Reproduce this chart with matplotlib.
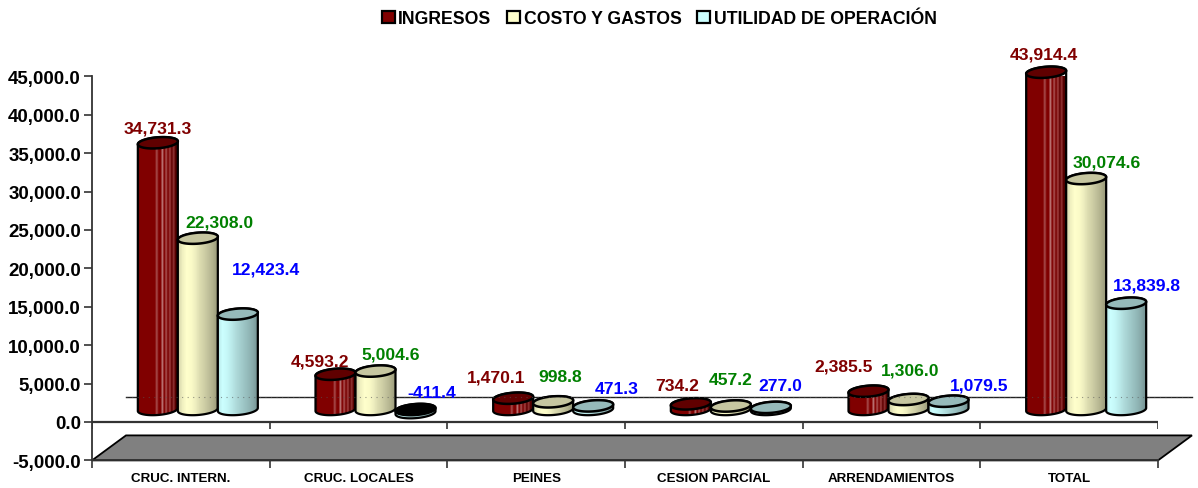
import numpy as np
import matplotlib
matplotlib.use('Agg')
import matplotlib.pyplot as plt
from matplotlib.colors import LinearSegmentedColormap
from matplotlib.patches import Patch, Polygon

plt.rcParams['font.family'] = ['Liberation Sans', 'DejaVu Sans']
plt.rcParams['font.weight'] = 'bold'

categories = ['CRUC. INTERN.', 'CRUC. LOCALES', 'PEINES', 'CESION PARCIAL', 'ARRENDAMIENTOS', 'TOTAL']
series_names = ['INGRESOS', 'COSTO Y GASTOS', 'UTILIDAD DE OPERACIÓN']
ingresos = [34731.3, 4593.2, 1470.1, 734.2, 2385.5, 43914.4]
costos = [22308.0, 5004.6, 998.8, 457.2, 1306.0, 30074.6]
utilidad = [12423.4, -411.4, 471.3, 277.0, 1079.5, 13839.8]
y_ticks = [-5000, 0, 5000, 10000, 15000, 20000, 25000, 30000, 35000, 40000, 45000]

# label offsets from the top of each cylinder, in pixels
label_dx = [[0, 22, 28], [-16, 15, 16], [-17, 7, 24], [-14, 0, 9], [-25, 2, 31], [-2, 21, 21]]
label_dy = [[15, 16, 45], [13, 17, 20], [21, 25, 17], [18, 26, 22], [25, 29, 16], [18, 17, 18]]

W, H = 1198, 489
PX_X = 1 / 177.67      # category units per pixel
PX_Y = 5000 / 38.4     # data units per pixel
DEPTH_X = 34 * PX_X
DEPTH_Y = 25 * PX_Y
RX = 20 * PX_X
RY = 5.5 * PX_Y
TILT = 1.5 * PX_Y

styles = [
    {'edge': 'black', 'text': '#800000', 'key': '#800000', 'top': '#600000',
     'stops': ['#600000', '#800000', '#800000', '#800000', '#800000', '#800000', '#800000', '#800000',
               '#800000', '#800000', '#a85050', '#800000', '#800000', '#b87070', '#800000', '#a85050',
               '#780000', '#a04040', '#600000', '#8c3030', '#580000', '#400000']},
    {'edge': 'black', 'text': '#008000', 'key': '#ffffcc', 'top': '#c6c6a0',
     'stops': ['#d0d0a8', '#f0f0c0', '#ffffcc', '#fbfbc8', '#eeeebf', '#dcdcb0', '#cfcfa6', '#c0c09a', '#b0b08c', '#9a9a7a']},
    {'edge': 'black', 'text': '#0000ff', 'key': '#ccffff', 'top': '#96baba',
     'stops': ['#b8e6e6', '#ccffff', '#c6f8f8', '#bcecec', '#b0dcdc', '#a6d0d0', '#9cc4c4', '#92b8b8', '#88aaaa', '#769494']},
]


def ellipse_points(xc, yc, t):
    return np.column_stack([xc + RX * np.cos(t), yc + RY * np.sin(t) + TILT * np.cos(t)])


def draw_cylinder(ax, xc, value, style, z):
    y0 = DEPTH_Y / 2
    y1 = y0 + value
    y_top = max(y0, y1)
    y_bot = min(y0, y1)
    lower = ellipse_points(xc, y_bot, np.linspace(np.pi, 2 * np.pi, 60))
    upper = ellipse_points(xc, y_top, np.linspace(0, np.pi, 60))
    body = Polygon(np.vstack([lower, upper]), closed=True, transform=ax.transData,
                   fc='none', ec=style['edge'], lw=1.6, clip_on=False, zorder=z + 0.2)
    ax.add_patch(body)
    cmap = LinearSegmentedColormap.from_list('cyl', style['stops'])
    im = ax.imshow(np.linspace(0, 1, 80).reshape(1, -1), cmap=cmap, aspect='auto',
                   extent=[xc - RX, xc + RX, y_bot - 2 * RY, y_top + 2 * RY],
                   interpolation='nearest', zorder=z)
    im.set_clip_path(body)
    top_color = 'black' if value < 0 else style['top']
    top = Polygon(ellipse_points(xc, y_top, np.linspace(0, 2 * np.pi, 120)), closed=True,
                  fc=top_color, ec='black', lw=1.8, clip_on=False, zorder=z + 0.3)
    ax.add_patch(top)


fig = plt.figure(figsize=(W / 100, H / 100), dpi=100)
ax = fig.add_axes([92 / W, (H - 461.4) / H, (1158 - 92) / W, 384 / H])
ax.set_facecolor('none')

# floor and back wall line
ax.add_patch(Polygon([[0, -5000], [6, -5000], [6 + DEPTH_X, -5000 + DEPTH_Y], [DEPTH_X, -5000 + DEPTH_Y]],
                     closed=True, fc='#808080', ec='black', lw=1.3, clip_on=False, zorder=1))
ax.plot([DEPTH_X, 6 + DEPTH_X], [DEPTH_Y, DEPTH_Y], color='#222222', lw=1, clip_on=False, zorder=1)

# zero line of the front
ax.axhline(0, color='#333333', lw=1.6, zorder=2)
ax.vlines(range(7), -900, 0, color='#333333', lw=1.2, zorder=2)

all_series = [ingresos, costos, utilidad]
for i in range(len(categories)):
    center = i + 0.5 + DEPTH_X / 2
    for j, values in enumerate(all_series):
        xc = center + (j - 1) * 2 * RX
        value = values[i]
        draw_cylinder(ax, xc, value, styles[j], 3 + i + j * 0.5 / 1.5 * 0.9)
        ax.annotate(f'{value:,.1f}', (xc, DEPTH_Y / 2 + value),
                    xytext=(label_dx[i][j] * 0.72, label_dy[i][j] * 0.72), textcoords='offset points',
                    ha='center', va='center', fontsize=12.6, color=styles[j]['text'],
                    annotation_clip=False, zorder=20)

# the wall line shows faintly through the bars
ax.plot([DEPTH_X, 6 + DEPTH_X], [DEPTH_Y, DEPTH_Y], color='#555555', lw=0.8, ls=(0, (1, 4)),
        alpha=0.6, clip_on=False, zorder=15)

ax.set_xlim(0, 6)
ax.set_ylim(-5000, 45000)

for side in ['top', 'right']:
    ax.spines[side].set_visible(False)
for side in ['left', 'bottom']:
    ax.spines[side].set_color('#333333')
    ax.spines[side].set_linewidth(1.3)

ax.set_yticks(y_ticks)
ax.set_yticklabels([f'{v:,.1f}' for v in y_ticks], fontsize=13.5, color='black')
ax.tick_params(axis='y', length=6, width=1.2, color='#333333', pad=2)
ax.set_xticks(range(7))
ax.set_xticklabels([])
ax.tick_params(axis='x', which='major', length=6, width=1.2, color='#333333')
ax.set_xticks(np.arange(len(categories)) + 0.5, minor=True)
ax.set_xticklabels(categories, minor=True, fontsize=9.6, color='black')
ax.tick_params(axis='x', which='minor', length=0, pad=8)

handles = [Patch(fc=s['key'], ec='black', lw=1.6, label=n) for s, n in zip(styles, series_names)]
ax.legend(handles=handles, ncol=3, loc='upper left', bbox_to_anchor=(382 / W, 1 - 11 / H),
          bbox_transform=fig.transFigure, frameon=False, fontsize=12.7, borderpad=0, borderaxespad=0,
          handlelength=0.72, handleheight=0.72, handletextpad=0.2, columnspacing=0.9)

fig.savefig('out.png', dpi=100)
